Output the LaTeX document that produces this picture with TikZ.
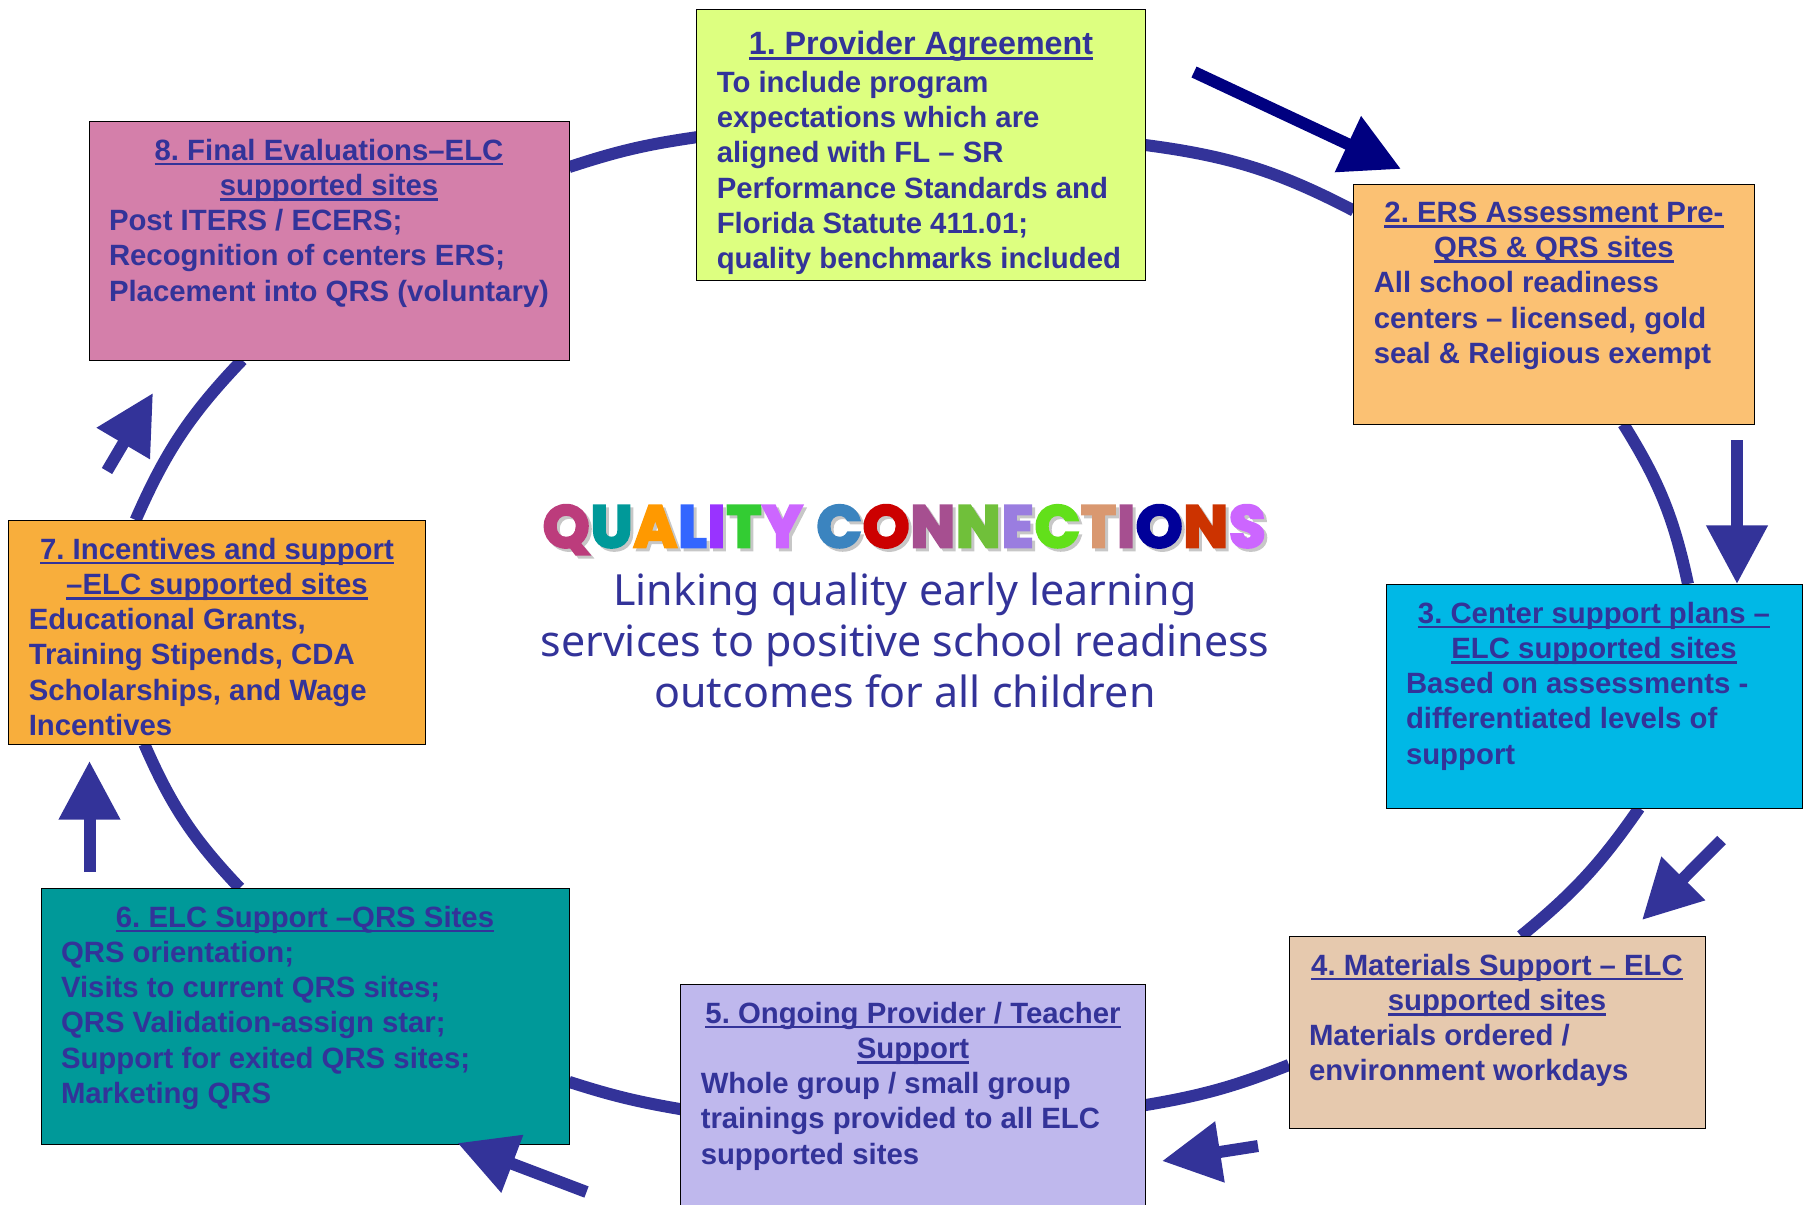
\documentclass[tikz,border=0pt]{standalone}
\usepackage{fontspec}
\usetikzlibrary{arrows.meta,backgrounds}
\setmainfont{Liberation Sans}
\newfontfamily\subtitlefont{Noto Sans}
\newfontfamily\bubblefont[FakeBold=5]{Poppins Bold}

\definecolor{ringblue}{RGB}{51,51,153}
\definecolor{navyarrow}{RGB}{0,0,128}
\definecolor{agreefill}{RGB}{221,255,128}
\definecolor{ersfill}{RGB}{251,193,115}
\definecolor{planfill}{RGB}{0,184,230}
\definecolor{materialfill}{RGB}{230,201,174}
\definecolor{ongoingfill}{RGB}{191,184,237}
\definecolor{elcfill}{RGB}{0,153,153}
\definecolor{incentivefill}{RGB}{248,174,60}
\definecolor{finalfill}{RGB}{212,127,170}

\newlength{\pxunit}
\setlength{\pxunit}{0.75pt}
\newsavebox{\headbox}
\newcommand{\headline}[1]{\sbox{\headbox}{#1}\leavevmode\rlap{\rule[-3.8pt]{\wd\headbox}{2pt}}\usebox{\headbox}}

% width, height, top gap, heading, body
\newcommand{\cardtext}[5]{\parbox[c][#2\pxunit][t]{\dimexpr #1\pxunit-40\pxunit\relax}{\vspace*{#3\pxunit}\frenchspacing\fontsize{22pt}{26.4pt}\selectfont\bfseries\color{ringblue}{\centering #4\par}\raggedright #5\par}}

% one letter of the big title, grey when it is the shadow
\newif\ifshadowtext
\newcommand{\bubble}[2]{\ifshadowtext\textcolor{black!22}{#2}\else\textcolor[RGB]{#1}{#2}\fi\kern1.1pt\relax}
\newcommand{\titleletters}{\spaceskip=10pt\relax\bubble{188,60,124}{Q}\bubble{0,153,153}{U}\bubble{255,153,0}{A}\bubble{51,102,255}{L}\bubble{153,51,255}{I}\bubble{51,204,51}{T}\bubble{204,102,255}{Y} \bubble{59,132,191}{C}\bubble{204,0,0}{O}\bubble{166,79,144}{N}\bubble{112,192,58}{N}\bubble{154,125,224}{E}\bubble{98,224,26}{C}\bubble{217,152,112}{T}\bubble{166,79,144}{I}\bubble{0,0,153}{O}\bubble{204,51,0}{N}\bubble{204,102,255}{S}}

\tikzset{
  cardbox/.style={draw=black,line width=0.75pt,inner xsep=20\pxunit,inner ysep=0pt,outer sep=0pt},
  ringarc/.style={draw=ringblue,line width=9pt},
  flowarrow/.style={draw=ringblue,fill=ringblue,line width=9pt,-{Triangle[length=44pt,width=44pt]}},
  bigtitle/.style={font=\bubblefont\fontsize{44pt}{44pt}\selectfont,anchor=base,inner sep=0pt},
}

\begin{document}
\begin{tikzpicture}[x=0.75pt,y=0.75pt,yscale=-1,xscale=1]
\useasboundingbox (0,0) rectangle (1803,1204);
\clip (0,0) rectangle (1803,1204);

%Shape: Card 1
\node[cardbox,fill=agreefill] (agree) at (921,145) {\cardtext{448.5}{271.6}{22}{\headline{\fontsize{24.2pt}{26.4pt}\selectfont 1. Provider Agreement}}{\vspace*{2pt}To include program\\expectations which are\\aligned with FL -- SR\\Performance Standards and\\Florida Statute 411.01;\\quality benchmarks included}};
%Shape: Card 2
\node[cardbox,fill=ersfill] (ers) at (1554,304) {\cardtext{400.5}{240}{18}{\headline{2. ERS Assessment Pre-}\\\headline{QRS \& QRS sites}}{All school readiness\\centers -- licensed, gold\\seal \& Religious exempt}};
%Shape: Card 3
\node[cardbox,fill=planfill] (plan) at (1594,696) {\cardtext{416}{224}{18}{\headline{3. Center support plans --}\\\headline{ELC supported sites}}{Based on assessments -\\differentiated levels of\\support}};
%Shape: Card 4
\node[cardbox,fill=materialfill] (material) at (1497,1032) {\cardtext{416}{192}{18}{\headline{4. Materials Support -- ELC}\\\headline{supported sites}}{Materials ordered /\\environment workdays}};
%Shape: Card 5
\node[cardbox,fill=ongoingfill] (ongoing) at (913,1097) {\cardtext{464.5}{226}{18}{\headline{5. Ongoing Provider / Teacher}\\\headline{Support}}{Whole group / small group\\trainings provided to all ELC\\supported sites}};
%Shape: Card 6
\node[cardbox,fill=elcfill] (elc) at (305,1016) {\cardtext{528}{256}{18}{\headline{6. ELC Support --QRS Sites}}{QRS orientation;\\Visits to current QRS sites;\\QRS Validation-assign star;\\Support for exited QRS sites;\\Marketing QRS}};
%Shape: Card 7
\node[cardbox,fill=incentivefill] (incentive) at (217,632) {\cardtext{416.5}{224}{18}{\headline{7. Incentives and support}\\\headline{--ELC supported sites}}{Educational Grants,\\Training Stipends, CDA\\Scholarships, and Wage\\Incentives}};
%Shape: Card 8
\node[cardbox,fill=finalfill] (final) at (329,240.5) {\cardtext{480}{239}{18}{\headline{8. Final Evaluations--ELC}\\\headline{supported sites}}{Post ITERS / ECERS;\\Recognition of centers ERS;\\Placement into QRS (voluntary)}};

%Curved Lines: ring behind the cards
\begin{scope}[on background layer]
\draw[ringarc] (agree.east) to[bend right=10] (ers.155);
\draw[ringarc] (ers.-60) to[bend right=10] (plan.50);
\draw[ringarc] (plan.-68) to[bend right=8] (material.76);
\draw[ringarc] (material.189) to[bend right=6] (ongoing.-2);
\draw[ringarc] (ongoing.183) to[bend right=4] (elc.-14);
\draw[ringarc] (elc.117) to[bend right=10] (incentive.237);
\draw[ringarc] (incentive.126) to[bend right=10] (final.234);
\draw[ringarc] (final.17) to[bend right=5] (agree.178);
\end{scope}

%Straight Lines: free arrows beside the cards
\coordinate (arrowAtail) at (1194,72);
\coordinate (arrowAtip) at (1401,169);
\coordinate (arrowBtail) at (1737,440);
\coordinate (arrowBtip) at (1737,584);
\coordinate (arrowCtail) at (1721.5,840);
\coordinate (arrowCtip) at (1642,920);
\coordinate (arrowDtail) at (1258,1146);
\coordinate (arrowDtip) at (1162,1161);
\coordinate (arrowEtail) at (586.5,1192);
\coordinate (arrowEtip) at (457.5,1143);
\coordinate (arrowFtail) at (89.5,872);
\coordinate (arrowFtip) at (89.5,761);
\coordinate (arrowGtail) at (107,471);
\coordinate (arrowGtip) at (153,393);
\draw[flowarrow,draw=navyarrow,fill=navyarrow] (arrowAtail) -- (arrowAtip);
\draw[flowarrow] (arrowBtail) -- (arrowBtip);
\draw[flowarrow] (arrowCtail) -- (arrowCtip);
\draw[flowarrow] (arrowDtail) -- (arrowDtip);
\draw[flowarrow] (arrowEtail) -- (arrowEtip);
\draw[flowarrow] (arrowFtail) -- (arrowFtip);
\draw[flowarrow] (arrowGtail) -- (arrowGtip);

% Text Node
\node[bigtitle] (titleshadow) at (908,550) {\shadowtexttrue\titleletters};
% Text Node
\node[bigtitle] (title) at (905,547) {\titleletters};
% Text Node
\node[font=\subtitlefont\fontsize{32.2pt}{38.3pt}\selectfont,text=ringblue,align=center,inner sep=0pt] (subtitle) at (905,640) {Linking quality early learning\\services to positive school readiness\\outcomes for all children};

\end{tikzpicture}
\end{document}
